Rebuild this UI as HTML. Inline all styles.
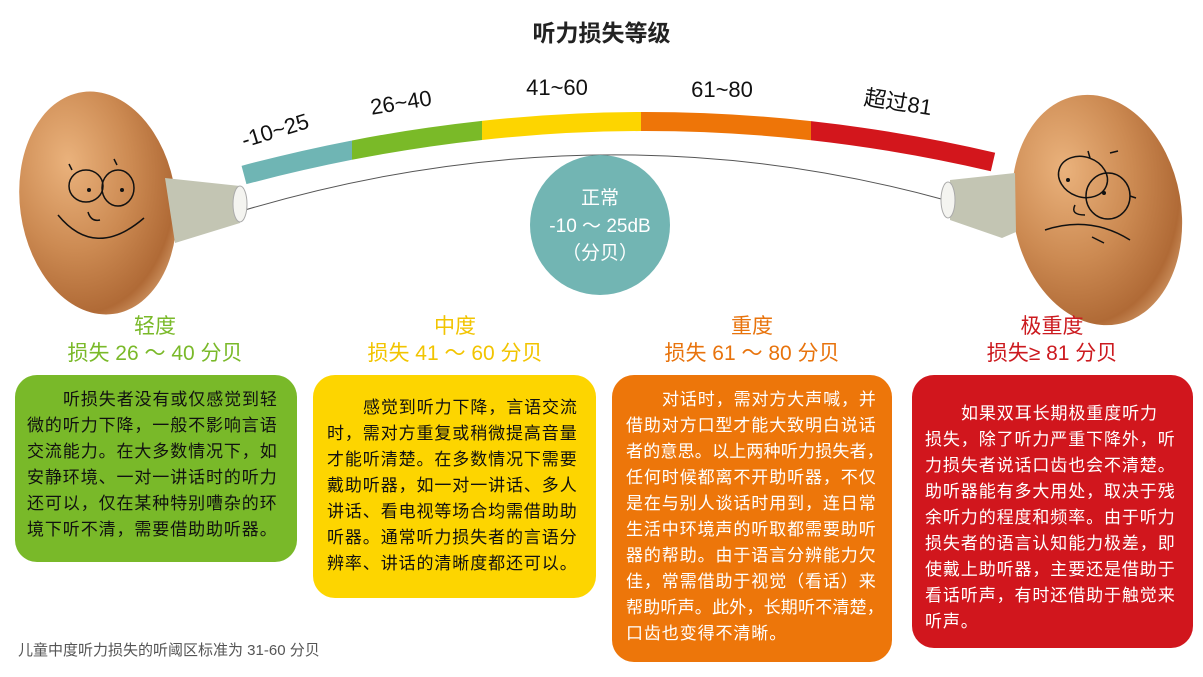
<!DOCTYPE html>
<html><head><meta charset="utf-8"><style>
html,body{margin:0;padding:0;background:#fff;}
body{width:1203px;height:677px;position:relative;overflow:hidden;font-family:"Liberation Sans","Noto Sans CJK SC",sans-serif;}
.box{position:absolute;border-radius:22px;}
.ln{position:absolute;white-space:nowrap;font-size:17px;letter-spacing:0.9px;line-height:20px;}
.h{position:absolute;text-align:center;white-space:nowrap;}
.h1{font-size:21px;}
.h2{font-size:21px;}
</style></head><body>
<svg width="1203" height="677" style="position:absolute;left:0;top:0">
<defs>
<radialGradient id="egg" cx="0.35" cy="0.3" r="0.8">
<stop offset="0" stop-color="#eab27c"/><stop offset="0.5" stop-color="#cc8a52"/><stop offset="0.85" stop-color="#b06a36"/><stop offset="1" stop-color="#d7a170"/>
</radialGradient>
<clipPath id="c1"><rect x="0" y="0" width="352" height="677"/></clipPath>
<clipPath id="c2"><rect x="352" y="0" width="130" height="677"/></clipPath>
<clipPath id="c3"><rect x="482" y="0" width="159" height="677"/></clipPath>
<clipPath id="c4"><rect x="641" y="0" width="170" height="677"/></clipPath>
<clipPath id="c5"><rect x="811" y="0" width="300" height="677"/></clipPath>
</defs>
<path d="M244,175 Q620,75 993,162" fill="none" stroke="#6fb5b4" stroke-width="19" clip-path="url(#c1)"/>
<path d="M244,175 Q620,75 993,162" fill="none" stroke="#7aba28" stroke-width="19" clip-path="url(#c2)"/>
<path d="M244,175 Q620,75 993,162" fill="none" stroke="#fdd500" stroke-width="19" clip-path="url(#c3)"/>
<path d="M244,175 Q620,75 993,162" fill="none" stroke="#ee7508" stroke-width="19" clip-path="url(#c4)"/>
<path d="M244,175 Q620,75 993,162" fill="none" stroke="#d3161c" stroke-width="19" clip-path="url(#c5)"/>
<path d="M245,210 Q600,105 945,200" fill="none" stroke="#555" stroke-width="1"/>
<circle cx="600" cy="225" r="70" fill="#72b5b3"/>
<ellipse cx="98" cy="203" rx="78" ry="112" fill="url(#egg)" transform="rotate(-8 98 203)"/>
<polygon points="165,178 240,186 240,223 175,243" fill="#c3c5b3"/>
<ellipse cx="240" cy="204" rx="7" ry="18" fill="#f4f4f0" stroke="#aaa"/>
<g fill="none" stroke="#111" stroke-width="1.5">
<ellipse cx="86" cy="186" rx="17" ry="16"/><ellipse cx="118" cy="188" rx="16" ry="18"/>
<path d="M72,170 l-3,-6 M117,165 l-3,-6"/>
<path d="M58,215 Q95,260 144,218"/><path d="M88,212 q3,10 12,8"/>
</g>
<circle cx="89" cy="190" r="2" fill="#111"/><circle cx="122" cy="190" r="2" fill="#111"/>
<ellipse cx="1097" cy="210" rx="84" ry="116" fill="url(#egg)" transform="rotate(-10 1097 210)"/>
<polygon points="950,180 1015,173 1016,232 1002,238 950,220" fill="#c3c5b3"/>
<ellipse cx="948" cy="200" rx="7" ry="18" fill="#f4f4f0" stroke="#aaa"/>
<g fill="none" stroke="#111" stroke-width="1.5">
<ellipse cx="1083" cy="177" rx="25" ry="20" transform="rotate(20 1083 177)"/><ellipse cx="1108" cy="196" rx="22" ry="23"/>
<path d="M1090,158 l-2,-7 M1110,153 l8,-2 M1130,196 l6,2"/>
<path d="M1045,230 Q1090,215 1130,240 M1092,237 l12,6 M1075,205 q-5,10 10,10"/>
</g>
<circle cx="1068" cy="180" r="2" fill="#111"/><circle cx="1104" cy="193" r="2" fill="#111"/>
<g font-family="Liberation Sans, Noto Sans CJK SC, sans-serif" font-size="22" fill="#111">
<text x="275" y="138" text-anchor="middle" transform="rotate(-17 275 130)">-10~25</text>
<text x="401" y="110" text-anchor="middle" transform="rotate(-9 401 103)">26~40</text>
<text x="557" y="95" text-anchor="middle">41~60</text>
<text x="722" y="97" text-anchor="middle">61~80</text>
<text x="898" y="110" text-anchor="middle" transform="rotate(9 898 103)">超过81</text>
</g>
<g font-family="Liberation Sans, Noto Sans CJK SC, sans-serif" font-size="19" fill="#fff" text-anchor="middle">
<text x="600" y="204">正常</text>
<text x="600" y="232">-10 ～ 25dB</text>
<text x="600" y="259">（分贝）</text>
</g>
</svg>
<div class="h" style="left:0;width:1203px;top:14px;font-size:23px;font-weight:bold;color:#222">听力损失等级</div>

<div class="h h1" style="left:55px;width:200px;top:310px;color:#7ab929">轻度</div>
<div class="h h2" style="left:35px;width:240px;top:337px;color:#7ab929">损失 26 ～ 40 分贝</div>
<div class="h h1" style="left:355px;width:200px;top:310px;color:#f2c400">中度</div>
<div class="h h2" style="left:335px;width:240px;top:337px;color:#f2c400">损失 41 ～ 60 分贝</div>
<div class="h h1" style="left:652px;width:200px;top:310px;color:#e8730c">重度</div>
<div class="h h2" style="left:632px;width:240px;top:337px;color:#e8730c">损失 61 ～ 80 分贝</div>
<div class="h h1" style="left:952px;width:200px;top:310px;color:#cc1a1f">极重度</div>
<div class="h h2" style="left:932px;width:240px;top:337px;color:#cc1a1f">损失≥ 81 分贝</div>

<div class="box" style="left:15px;top:375px;width:282px;height:187px;background:#79b929"></div>
<div class="box" style="left:313px;top:375px;width:283px;height:223px;background:#fdd500"></div>
<div class="box" style="left:612px;top:375px;width:280px;height:287px;background:#ed760a"></div>
<div class="box" style="left:912px;top:375px;width:281px;height:273px;background:#d1161d"></div>

<div style="color:#111">
<div class="ln" style="left:63px;top:390px">听损失者没有或仅感觉到轻</div>
<div class="ln" style="left:27px;top:416px">微的听力下降，一般不影响言语</div>
<div class="ln" style="left:27px;top:442px">交流能力。在大多数情况下，如</div>
<div class="ln" style="left:27px;top:468px">安静环境、一对一讲话时的听力</div>
<div class="ln" style="left:27px;top:494px">还可以，仅在某种特别嘈杂的环</div>
<div class="ln" style="left:27px;top:520px">境下听不清，需要借助助听器。</div>

<div class="ln" style="left:363px;top:398px">感觉到听力下降，言语交流</div>
<div class="ln" style="left:327px;top:424px">时，需对方重复或稍微提高音量</div>
<div class="ln" style="left:327px;top:450px">才能听清楚。在多数情况下需要</div>
<div class="ln" style="left:327px;top:476px">戴助听器，如一对一讲话、多人</div>
<div class="ln" style="left:327px;top:502px">讲话、看电视等场合均需借助助</div>
<div class="ln" style="left:327px;top:528px">听器。通常听力损失者的言语分</div>
<div class="ln" style="left:327px;top:554px">辨率、讲话的清晰度都还可以。</div>
</div>
<div style="color:#fff">
<div class="ln" style="left:662px;top:390px">对话时，需对方大声喊，并</div>
<div class="ln" style="left:626px;top:416px">借助对方口型才能大致明白说话</div>
<div class="ln" style="left:626px;top:442px;letter-spacing:0.2px">者的意思。以上两种听力损失者，</div>
<div class="ln" style="left:626px;top:468px">任何时候都离不开助听器，不仅</div>
<div class="ln" style="left:626px;top:494px">是在与别人谈话时用到，连日常</div>
<div class="ln" style="left:626px;top:520px">生活中环境声的听取都需要助听</div>
<div class="ln" style="left:626px;top:546px">器的帮助。由于语言分辨能力欠</div>
<div class="ln" style="left:626px;top:572px">佳，常需借助于视觉（看话）来</div>
<div class="ln" style="left:626px;top:598px;letter-spacing:0.2px">帮助听声。此外，长期听不清楚，</div>
<div class="ln" style="left:626px;top:624px">口齿也变得不清晰。</div>

<div class="ln" style="left:961px;top:404px">如果双耳长期极重度听力</div>
<div class="ln" style="left:925px;top:430px">损失，除了听力严重下降外，听</div>
<div class="ln" style="left:925px;top:456px">力损失者说话口齿也会不清楚。</div>
<div class="ln" style="left:925px;top:482px">助听器能有多大用处，取决于残</div>
<div class="ln" style="left:925px;top:508px">余听力的程度和频率。由于听力</div>
<div class="ln" style="left:925px;top:534px">损失者的语言认知能力极差，即</div>
<div class="ln" style="left:925px;top:560px">使戴上助听器，主要还是借助于</div>
<div class="ln" style="left:925px;top:586px">看话听声，有时还借助于触觉来</div>
<div class="ln" style="left:925px;top:612px">听声。</div>
</div>
<div class="ln" style="left:18px;top:641px;font-size:15px;letter-spacing:0;color:#555">儿童中度听力损失的听阈区标准为 31-60 分贝</div>
</body></html>
